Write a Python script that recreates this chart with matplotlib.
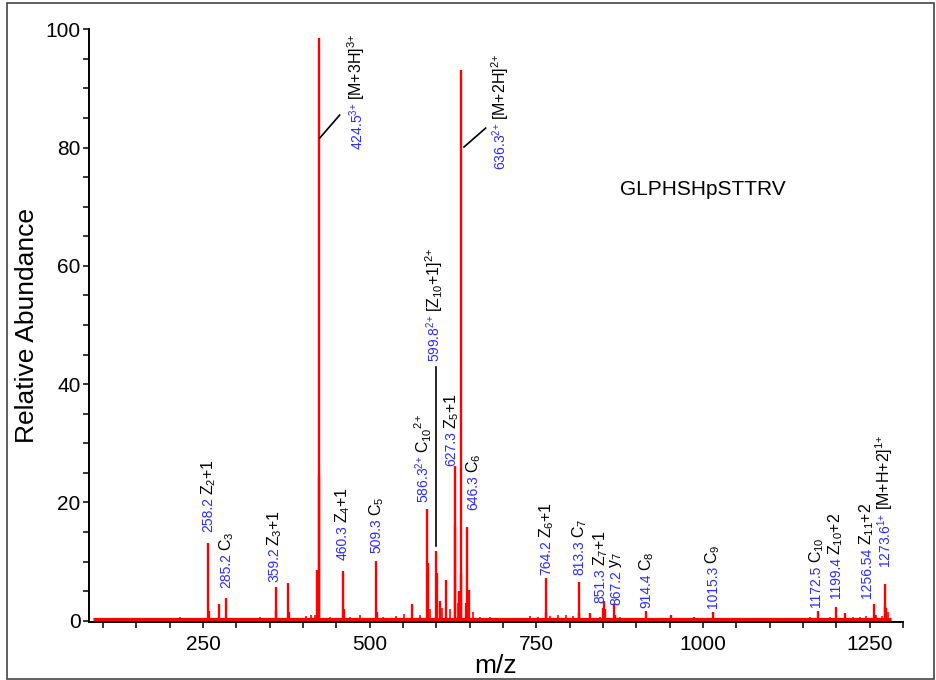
import matplotlib
matplotlib.use('Agg')
import matplotlib.pyplot as plt
from matplotlib.ticker import MultipleLocator
from matplotlib.patches import Rectangle

# ---------------- data ----------------
peak_mz = [258.2, 259.2, 274.0, 285.2, 359.2, 360.2, 378.0, 379.0, 421.5, 423.9, 424.5,
           460.3, 461.3, 509.3, 510.3, 563.5, 586.3, 586.8, 599.8, 600.3, 605.0, 614.5,
           627.3, 627.8, 634.0, 636.3, 637.0, 644.0, 646.3, 648.5, 764.2, 765.2, 813.3,
           814.3, 830.0, 850.3, 851.3, 852.3, 867.2, 868.2, 914.4, 952.6, 987.0, 1015.3,
           1172.5, 1199.4, 1212.5, 1256.5, 1257.5, 1272.6, 1273.6, 1274.6]
peak_int = [13.1, 1.6, 2.8, 3.9, 5.7, 1.9, 6.4, 1.5, 8.6, 24.5, 98.5,
            8.5, 2.0, 10.1, 1.5, 2.9, 18.9, 9.8, 11.8, 8.0, 3.3, 6.9,
            26.2, 16.0, 5.0, 93.2, 8.0, 3.0, 15.9, 5.2, 7.2, 1.5, 6.5,
            1.3, 1.4, 2.2, 3.3, 2.0, 2.9, 1.0, 1.7, 1.0, 0.7, 1.5,
            1.7, 2.3, 1.3, 2.9, 1.0, 2.5, 6.3, 2.2]

noise_mz = [100, 130, 170, 200, 215, 240, 300, 318, 335, 348, 395, 405, 412, 418, 440,
            450, 470, 485, 497, 520, 540, 552, 575, 590, 608, 620, 632, 655, 665, 680,
            700, 720, 740, 752, 770, 782, 795, 805, 845, 875, 900, 1050, 1100, 1140,
            1160, 1180, 1190, 1225, 1235, 1245, 1260, 1268, 1277]
noise_int = [0.3, 0.3, 0.4, 0.4, 0.6, 0.5, 0.4, 0.5, 0.6, 0.4, 0.5, 0.8, 1.0, 1.0, 0.6,
             0.5, 0.7, 1.0, 0.5, 0.6, 0.8, 1.2, 1.0, 2.0, 2.2, 2.0, 3.0, 1.5, 0.7, 0.6,
             0.5, 0.5, 0.8, 0.7, 0.8, 1.0, 0.9, 0.8, 0.6, 0.6, 0.4, 0.3, 0.3, 0.5,
             0.6, 0.5, 0.6, 0.7, 0.6, 0.8, 0.9, 0.8, 1.5]

baseline_mz = [85, 1282]
baseline_int = [0.25, 0.25]

ann_numbers = ['258.2', '285.2', '359.2', '460.3', '509.3', '586.3$^{2{+}}$', '599.8$^{2{+}}$',
               '627.3', '646.3', '764.2', '813.3', '851.3', '867.2', '914.4', '1015.3',
               '1172.5', '1199.4', '1256.54', '1273.6$^{1{+}}$', '424.5$^{3{+}}$',
               '636.3$^{2{+}}$']
ann_ions = ['Z$_2$+1', 'C$_3$', 'Z$_3$+1', 'Z$_4$+1', 'C$_5$', 'C$_{10}$$^{2{+}}$',
            '[Z$_{10}$+1]$^{2{+}}$', 'Z$_5$+1', 'C$_6$', 'Z$_6$+1', 'C$_7$', 'Z$_7$+1',
            'y$_7$', 'C$_8$', 'C$_9$', 'C$_{10}$', 'Z$_{10}$+2', 'Z$_{11}$+2',
            '[M+H+2]$^{1{+}}$', '[M+3H]$^{3{+}}$', '[M+2H]$^{2{+}}$']
peptide = 'GLPHSHpSTTRV'

x_ticks_major = 250
x_ticks_minor = 50
y_ticks_major = 20
y_ticks_minor = 5

# ---------------- layout ----------------
ann_pos = [(258.5, 15.0), (285.5, 5.6), (357.5, 6.5), (459.5, 10.3), (510.5, 11.5),
           (580.0, 19.9), (596.5, 43.8), (622.6, 26.2), (656.0, 18.8), (765.0, 7.8),
           (815.0, 7.8), (846.5, 3.0), (870.0, 2.7), (915.0, 2.2), (1015.0, 2.1),
           (1170.0, 2.4), (1199.0, 3.9), (1246.0, 3.9), (1272.5, 9.0), (480.0, 79.6),
           (695.0, 76.2)]
connectors = [((599.8, 599.8), (12.7, 42.9)), ((425.0, 455.0), (81.6, 85.5)),
              ((641.5, 674.0), (80.1, 83.3))]

plt.rcParams['font.family'] = ['Liberation Sans', 'DejaVu Sans']
plt.rcParams['mathtext.fontset'] = 'custom'
plt.rcParams['mathtext.rm'] = 'Liberation Sans'
plt.rcParams['mathtext.it'] = 'Liberation Sans'
plt.rcParams['mathtext.bf'] = 'Liberation Sans'
plt.rcParams['mathtext.default'] = 'regular'

fig = plt.figure(figsize=(9.36, 6.8), dpi=100)
ax = fig.add_axes([0.0951, 0.0849, 0.8696, 0.872])

ax.plot(baseline_mz, baseline_int, color='#ff0000', lw=2.3, solid_capstyle='butt', zorder=2)
ax.vlines(noise_mz, 0, noise_int, color='#ff0000', lw=1.2, zorder=2)
ax.vlines(peak_mz, 0, peak_int, color='#ff0000', lw=1.7, zorder=3)

ax.set_xlim(79, 1300)
ax.set_ylim(-0.25, 100)
for s in ['top', 'right']:
    ax.spines[s].set_visible(False)
for s in ['left', 'bottom']:
    ax.spines[s].set_linewidth(1.4)
ax.xaxis.set_major_locator(MultipleLocator(x_ticks_major))
ax.xaxis.set_minor_locator(MultipleLocator(x_ticks_minor))
ax.yaxis.set_major_locator(MultipleLocator(y_ticks_major))
ax.yaxis.set_minor_locator(MultipleLocator(y_ticks_minor))
ax.tick_params(which='both', direction='out', length=4, width=1.1, labelsize=15)
ax.tick_params(axis='x', pad=5)
ax.tick_params(axis='y', pad=2)

ax.set_xlabel('m/z', fontsize=19, labelpad=0)
ax.set_ylabel('Relative Abundance', fontsize=19, labelpad=5)

ax.text(875, 72.9, peptide, fontsize=15, ha='left', va='center')

blue = '#2a2aff'
for (x, y), num, ion in zip(ann_pos, ann_numbers, ann_ions):
    t = ax.text(x, y, num, rotation=90, ha='center', va='bottom', color=blue,
                fontsize=10)
    ax.annotate(ion, xy=(0.5, 1.0), xycoords=t, xytext=(0, 1.5),
                textcoords='offset points', rotation=90, ha='center', va='bottom',
                color='black', fontsize=11.5)

for xs, ys in connectors:
    ax.plot(xs, ys, color='black', lw=1.2, zorder=4)

fig.patches.append(Rectangle((0.0075, 0.0015), 0.99, 0.994, transform=fig.transFigure,
                             fill=False, ec='#444444', lw=1.2))

fig.savefig('out.png', dpi=100)
